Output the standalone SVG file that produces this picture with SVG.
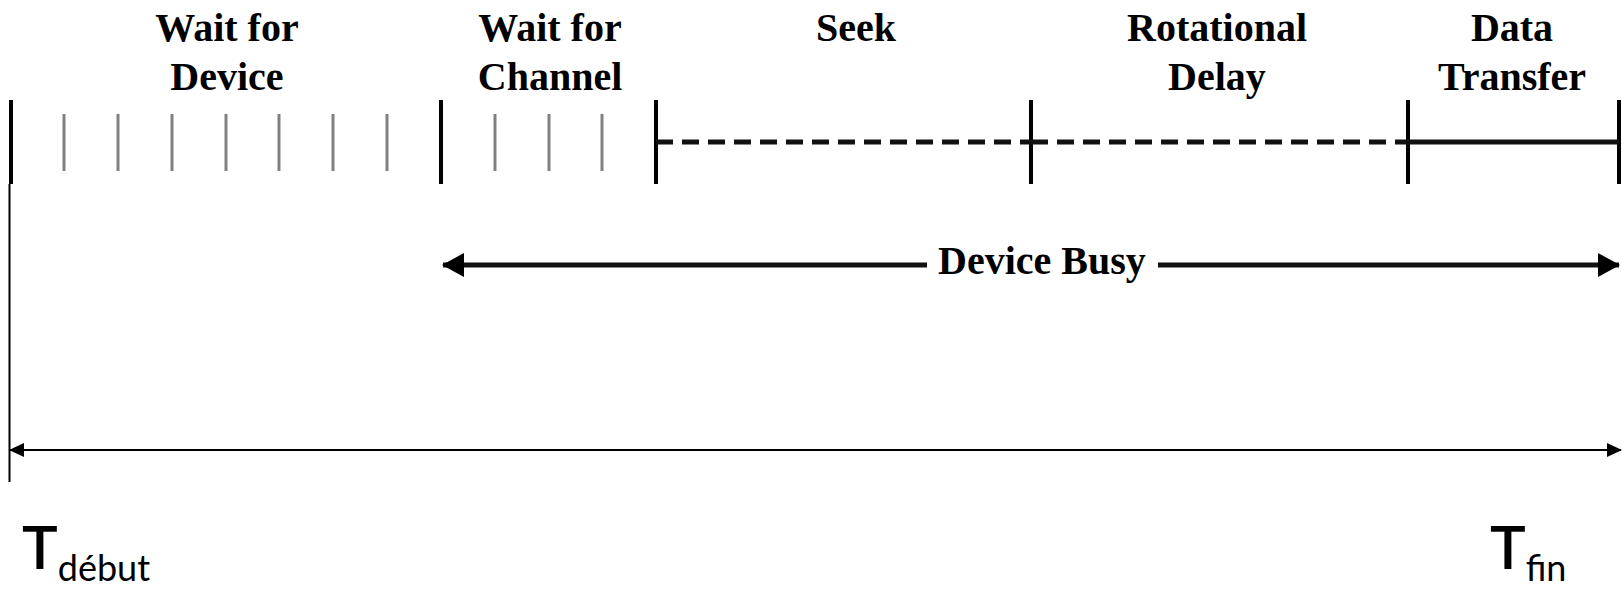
<svg xmlns="http://www.w3.org/2000/svg" width="1622" height="590" viewBox="0 0 1622 590">
  <style>
    .phase { font-family: "Liberation Serif", "Times New Roman", serif; font-weight: bold; font-size: 40px; fill: #000; text-anchor: middle; }
    .major { stroke: #000; stroke-width: 4; }
    .minor { stroke: #808080; stroke-width: 3; }
    .dash { stroke: #111; stroke-width: 5; stroke-dasharray: 17 9; fill: none; }
    .solid { stroke: #111; stroke-width: 5; fill: none; }
    .thin { stroke: #000; stroke-width: 2; fill: none; }
    .tbig { font-family: Lato, "Noto Sans", sans-serif; font-weight: 600; font-size: 60px; fill: #000; }
    .tsub { font-family: Lato, "Noto Sans", sans-serif; font-size: 36px; fill: #000; }
  </style>
  <defs>
    <marker id="bigHead" viewBox="0 0 22 24" refX="21" refY="12" markerWidth="22" markerHeight="24" markerUnits="userSpaceOnUse" orient="auto-start-reverse">
      <path d="M0,0 L22,12 L0,24 Z" fill="#000"/>
    </marker>
    <marker id="smallHead" viewBox="0 0 15 14" refX="14" refY="7" markerWidth="15" markerHeight="14" markerUnits="userSpaceOnUse" orient="auto-start-reverse">
      <path d="M0,0 L15,7 L0,14 Z" fill="#000"/>
    </marker>
  </defs>
  <rect width="1622" height="590" fill="#fff"/>

  <!-- phase labels -->
  <g id="wait-device">
    <text class="phase" x="227" y="41">Wait for</text>
    <text class="phase" x="227" y="90">Device</text>
  </g>
  <g id="wait-channel">
    <text class="phase" x="550" y="41">Wait for</text>
    <text class="phase" x="550" y="90">Channel</text>
  </g>
  <g id="seek">
    <text class="phase" x="856" y="41">Seek</text>
  </g>
  <g id="rotational-delay">
    <text class="phase" x="1217" y="41">Rotational</text>
    <text class="phase" x="1217" y="90">Delay</text>
  </g>
  <g id="data-transfer">
    <text class="phase" x="1512" y="41">Data</text>
    <text class="phase" x="1512" y="90">Transfer</text>
  </g>

  <!-- timeline ticks -->
  <g id="ticks">
    <g class="minor">
      <line x1="64" y1="114" x2="64" y2="171"/>
      <line x1="118" y1="114" x2="118" y2="171"/>
      <line x1="172" y1="114" x2="172" y2="171"/>
      <line x1="226" y1="114" x2="226" y2="171"/>
      <line x1="279" y1="114" x2="279" y2="171"/>
      <line x1="333" y1="114" x2="333" y2="171"/>
      <line x1="387" y1="114" x2="387" y2="171"/>
      <line x1="495" y1="114" x2="495" y2="171"/>
      <line x1="549" y1="114" x2="549" y2="171"/>
      <line x1="602" y1="114" x2="602" y2="171"/>
    </g>
    <g class="major">
      <line x1="11" y1="100" x2="11" y2="184"/>
      <line x1="441" y1="100" x2="441" y2="184"/>
      <line x1="656" y1="100" x2="656" y2="184"/>
      <line x1="1031" y1="100" x2="1031" y2="184"/>
      <line x1="1408" y1="100" x2="1408" y2="184"/>
      <line x1="1619" y1="100" x2="1619" y2="184"/>
    </g>
  </g>

  <!-- connectors -->
  <g id="connectors">
    <line class="dash" x1="656" y1="142" x2="1031" y2="142"/>
    <line class="dash" x1="1031" y1="142" x2="1408" y2="142"/>
    <line class="solid" x1="1408" y1="142" x2="1619" y2="142"/>
    <line class="thin" x1="9.5" y1="184" x2="9.5" y2="482"/>
    <line class="thin" x1="10" y1="450" x2="1621" y2="450" marker-start="url(#smallHead)" marker-end="url(#smallHead)"/>
    <g id="device-busy">
      <line class="solid" x1="443" y1="265" x2="1619" y2="265" marker-start="url(#bigHead)" marker-end="url(#bigHead)"/>
      <rect x="927" y="242" width="231" height="44" fill="#fff"/>
      <text class="phase" x="1042" y="274">Device Busy</text>
    </g>
  </g>

  <!-- start and end times -->
  <g id="t-debut">
    <text x="22" y="569"><tspan class="tbig">T</tspan><tspan class="tsub" dy="12">début</tspan></text>
  </g>
  <g id="t-fin">
    <text x="1490" y="569"><tspan class="tbig">T</tspan><tspan class="tsub" dy="12">fin</tspan></text>
  </g>
</svg>
